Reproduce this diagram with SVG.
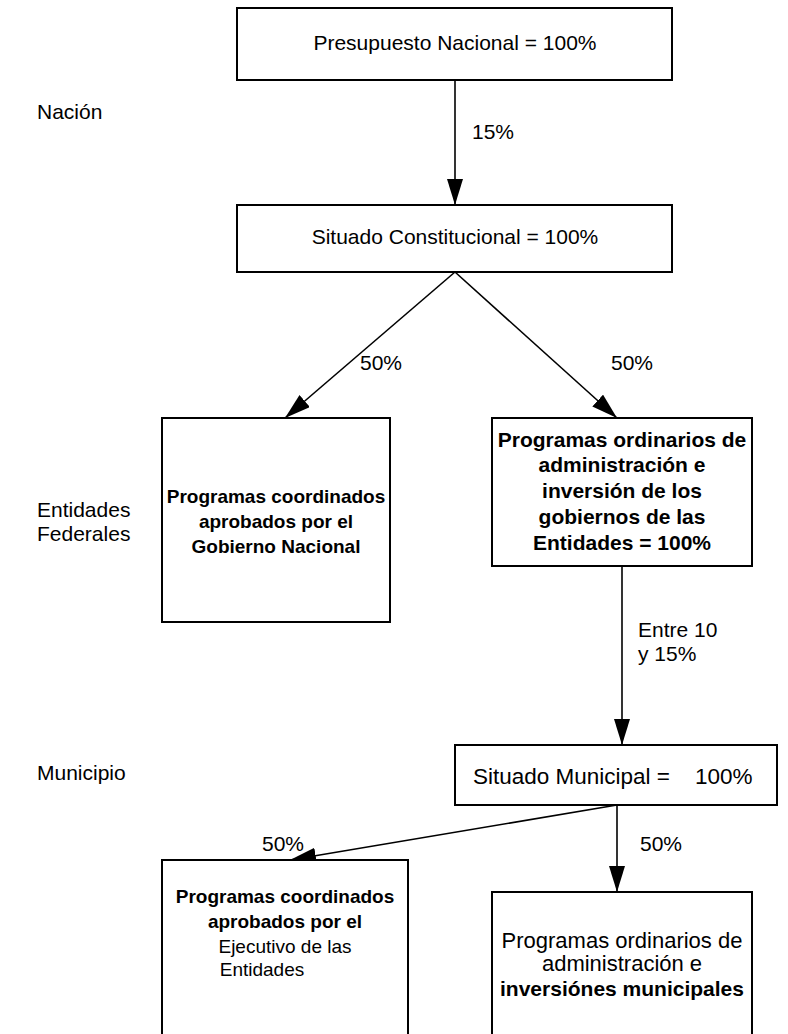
<svg xmlns="http://www.w3.org/2000/svg" width="788" height="1034" viewBox="0 0 788 1034">
<style>
  .box{fill:#fff;stroke:#000;stroke-width:2}
  .t{font-family:"Liberation Sans",Arial,sans-serif;font-size:21px;fill:#000}
  .s{font-size:19px}
  .c{text-anchor:middle}
  .b{font-weight:bold}
  .ln{stroke:#000;stroke-width:1.6;fill:none}
</style>
<defs>
  <marker id="ahb" markerWidth="26" markerHeight="16" refX="26" refY="8" orient="auto" markerUnits="userSpaceOnUse" viewBox="0 0 26 16">
    <path d="M0,0 L26,8 L0,16 Z" fill="#000"/>
  </marker>
</defs>
<rect width="788" height="1034" fill="#fff"/>
<g id="labels">
  <text class="t" x="37" y="119">Nación</text>
  <text class="t" x="37" y="517">Entidades</text>
  <text class="t" x="37" y="541">Federales</text>
  <text class="t" x="37" y="780">Municipio</text>
</g>
<g id="connectors">
  <line class="ln" x1="455" y1="80" x2="455" y2="205" marker-end="url(#ahb)"/>
  <line class="ln" x1="455" y1="272" x2="285" y2="418" marker-end="url(#ahb)"/>
  <line class="ln" x1="455" y1="272" x2="617" y2="418" marker-end="url(#ahb)"/>
  <line class="ln" x1="622" y1="566" x2="622" y2="745" marker-end="url(#ahb)"/>
  <line class="ln" x1="617" y1="805" x2="290" y2="860" marker-end="url(#ahb)"/>
  <line class="ln" x1="617" y1="805" x2="617" y2="892" marker-end="url(#ahb)"/>
  <text class="t" x="472" y="139">15%</text>
  <text class="t" x="360" y="370">50%</text>
  <text class="t" x="611" y="370">50%</text>
  <text class="t" x="638" y="637">Entre 10</text>
  <text class="t" x="638" y="661">y 15%</text>
  <text class="t" x="262" y="851">50%</text>
  <text class="t" x="640" y="851">50%</text>
</g>
<g id="n1">
  <rect class="box" x="237" y="8" width="435" height="72"/>
  <text class="t c" x="455" y="50">Presupuesto Nacional = 100%</text>
</g>
<g id="n2">
  <rect class="box" x="237" y="205" width="435" height="67"/>
  <text class="t c" x="455" y="244">Situado Constitucional = 100%</text>
</g>
<g id="n3">
  <rect class="box" x="162" y="418" width="228" height="204"/>
  <text class="t s c b" x="276" y="503">Programas coordinados</text>
  <text class="t s c b" x="276" y="528">aprobados por el</text>
  <text class="t s c b" x="276" y="553">Gobierno Nacional</text>
</g>
<g id="n4">
  <rect class="box" x="492" y="418" width="260" height="148"/>
  <text class="t c b" x="622" y="447">Programas ordinarios de</text>
  <text class="t c b" x="622" y="472">administración e</text>
  <text class="t c b" x="622" y="498">inversión de los</text>
  <text class="t c b" x="622" y="524">gobiernos de las</text>
  <text class="t c b" x="622" y="550">Entidades = 100%</text>
</g>
<g id="n5">
  <rect class="box" x="455" y="745" width="322" height="60"/>
  <text class="t" x="473" y="784" style="font-size:22.5px">Situado Municipal = <tspan x="695">100%</tspan></text>
</g>
<g id="n6">
  <rect class="box" x="162" y="860" width="246" height="180"/>
  <text class="t s c b" x="285" y="903">Programas coordinados</text>
  <text class="t s c b" x="285" y="928">aprobados por el</text>
  <text class="t s c" x="285" y="953">Ejecutivo de las</text>
  <text class="t s c" x="262" y="976">Entidades</text>
</g>
<g id="n7">
  <rect class="box" x="492" y="892" width="260" height="148"/>
  <text class="t c" x="622" y="948" style="font-size:22px">Programas ordinarios de</text>
  <text class="t c" x="622" y="971" style="font-size:22px">administración e</text>
  <text class="t c b" x="622" y="996">inversiónes municipales</text>
</g>
</svg>
